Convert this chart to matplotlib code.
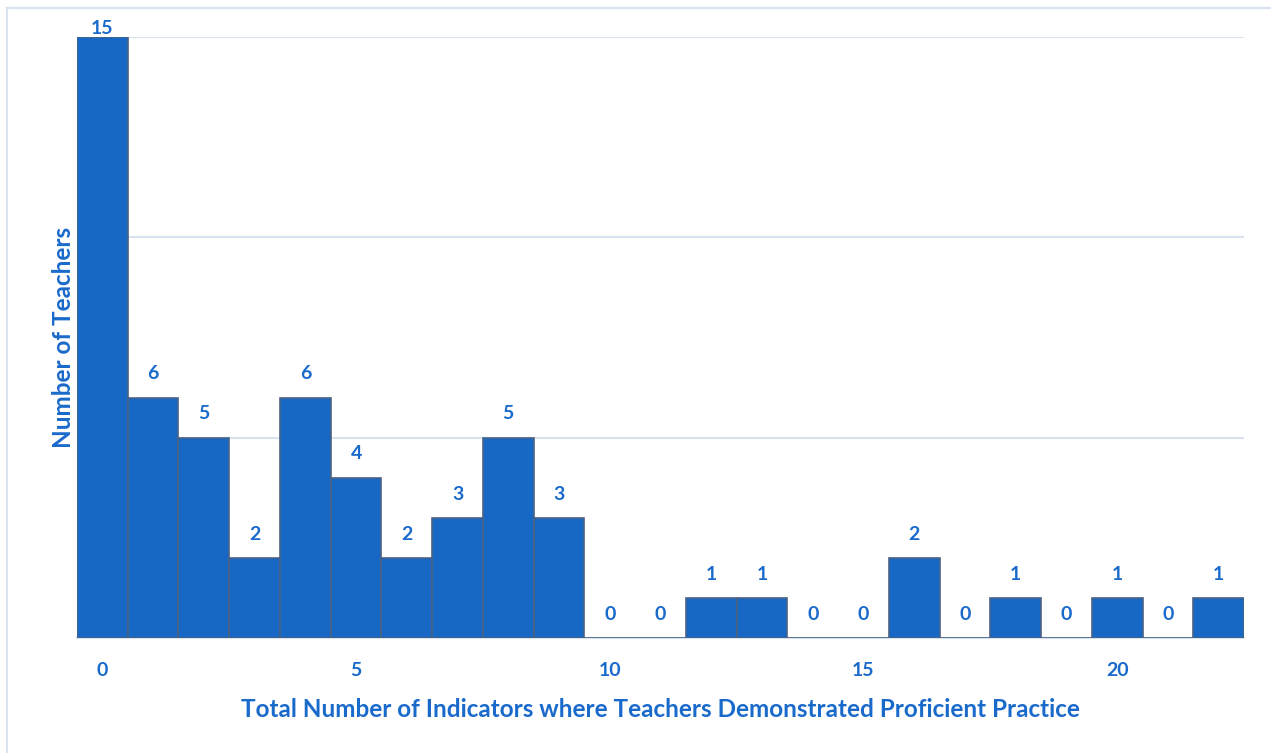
import matplotlib.pyplot as plt
from matplotlib.lines import Line2D

# Histogram counts
indicators = list(range(23))
teachers = [15, 6, 5, 2, 6, 4, 2, 3, 5, 3, 0, 0, 1, 1, 0, 0, 2, 0, 1, 0, 1, 0, 1]
x_ticks = [0, 5, 10, 15, 20]

BLUE = "#1668c4"
EDGE = "#4a6284"
TEXT = "#1a6acb"
GRID = "#d9e3f0"

plt.rcParams["font.family"] = ["Lato", "DejaVu Sans"]

fig = plt.figure(figsize=(12.71, 7.53), dpi=100)
ax = fig.add_axes([77 / 1271, 115 / 753, 1167 / 1271, 601 / 753])

ax.bar(indicators, teachers, width=1.0, color=BLUE, edgecolor=EDGE,
       linewidth=1.2, zorder=3)
top = max(teachers)
for x, y in zip(indicators, teachers):
    # the tallest label is pushed down to stay inside the plot area
    off = 0 if y == top else 11
    ax.annotate(str(y), (x, y), xytext=(0, off), textcoords="offset points",
                ha="center", va="bottom", color=TEXT, fontsize=14,
                fontweight="bold")

ax.set_xlim(-0.5, 22.5)
ax.set_ylim(0, 15)
ax.set_yticks([0, 5, 10, 15])
ax.set_yticklabels([])
ax.tick_params(axis="y", length=0)
ax.set_xticks(x_ticks)
ax.tick_params(axis="x", length=0, pad=17, labelsize=14, labelcolor=TEXT)
for lbl in ax.get_xticklabels():
    lbl.set_fontweight("bold")
ax.grid(axis="y", color=GRID, lw=1.5, zorder=0)
for side in ["top", "right", "left"]:
    ax.spines[side].set_visible(False)
ax.spines["bottom"].set_color(GRID)
ax.spines["bottom"].set_linewidth(1.5)

ax.set_xlabel("Total Number of Indicators where Teachers Demonstrated Proficient Practice",
              color=TEXT, fontsize=17.5, fontweight="bold", labelpad=14)
ax.set_ylabel("Number of Teachers", color=TEXT, fontsize=17.5,
              fontweight="bold", labelpad=-2)

# light frame on top and left of the figure
fig.add_artist(Line2D([7 / 1271, 7 / 1271], [0, 1 - 8 / 753],
                      color=GRID, lw=1.5))
fig.add_artist(Line2D([7 / 1271, 1], [1 - 8 / 753, 1 - 8 / 753],
                      color=GRID, lw=1.5))

fig.savefig("out.png", dpi=100)
